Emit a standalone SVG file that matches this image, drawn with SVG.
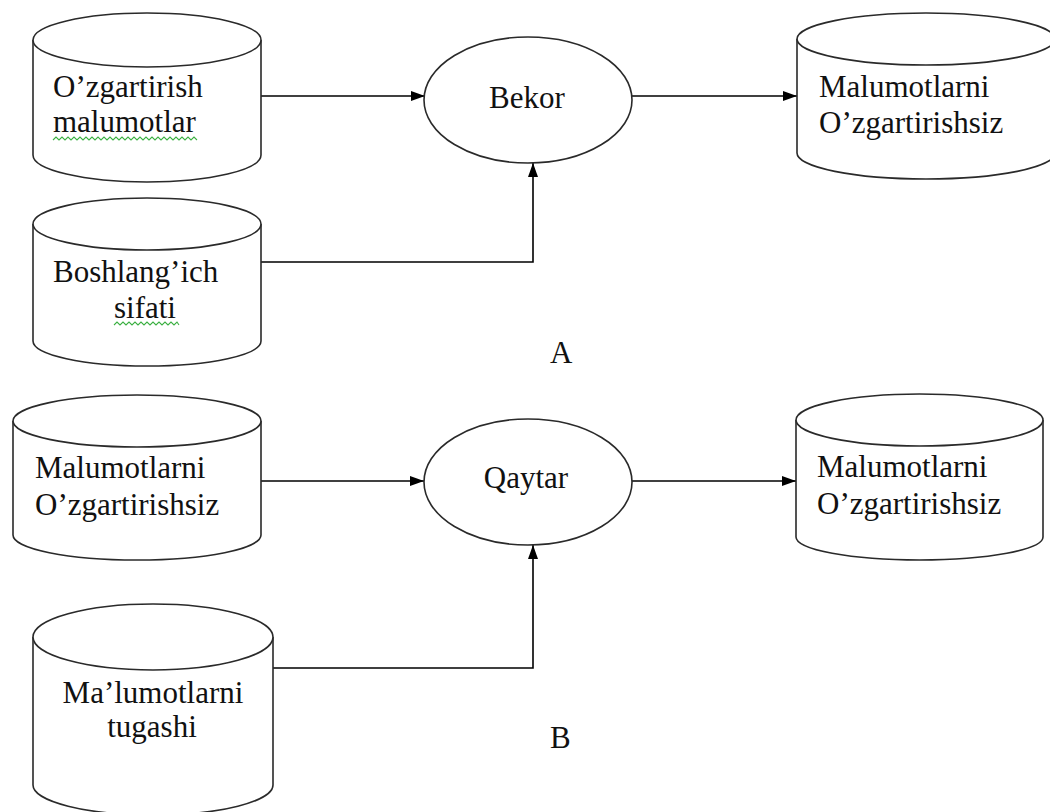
<svg xmlns="http://www.w3.org/2000/svg" width="1050" height="812" viewBox="0 0 1050 812">
  <defs>
    <marker id="arrow" viewBox="0 0 14 10" refX="14" refY="5" markerWidth="14" markerHeight="10" markerUnits="userSpaceOnUse" orient="auto">
      <path d="M0,0 L14,5 L0,10 Z" fill="#000"/>
    </marker>
    <style>
      .shape { fill: #fff; stroke: #2a2a2a; stroke-width: 1.6; }
      .label { font-family: "Liberation Serif", "Times New Roman", serif; font-size: 31px; fill: #111; }
      .mid { text-anchor: middle; }
      .link { fill: none; stroke: #000; stroke-width: 1.6; marker-end: url(#arrow); }
      .squiggle { fill: none; stroke: #3cb043; stroke-width: 1.1; }
    </style>
  </defs>
  <rect width="1050" height="812" fill="#fff"/>

  <!-- connectors -->
  <g id="connectors">
    <path class="link" d="M261,96 H425"/>
    <path class="link" d="M632,96 H797"/>
    <path class="link" d="M261,262 H533 V163"/>
    <path class="link" d="M261,481 H424"/>
    <path class="link" d="M632,481 H796"/>
    <path class="link" d="M260,668 H533 V545"/>
  </g>

  <!-- part A -->
  <g id="store-ozgartirish">
    <path class="shape" d="M33,40 V155 A114,27 0 0 0 261,155 V40"/>
    <ellipse class="shape" cx="147" cy="40" rx="114" ry="27"/>
    <text class="label" x="53" y="97">O’zgartirish</text>
    <text class="label" x="53" y="132">malumotlar</text>
    <polyline class="squiggle" points="53,140 56,137 59,140 62,137 65,140 68,137 71,140 74,137 77,140 80,137 83,140 86,137 89,140 92,137 95,140 98,137 101,140 104,137 107,140 110,137 113,140 116,137 119,140 122,137 125,140 128,137 131,140 134,137 137,140 140,137 143,140 146,137 149,140 152,137 155,140 158,137 161,140 164,137 167,140 170,137 173,140 176,137 179,140 182,137 185,140 188,137 191,140 194,137 197,140"/>
  </g>

  <g id="store-boshlangich">
    <path class="shape" d="M33,224 V341 A114,25 0 0 0 261,341 V224"/>
    <ellipse class="shape" cx="147" cy="224" rx="114" ry="26"/>
    <text class="label" x="53" y="282">Boshlang’ich</text>
    <text class="label" x="114" y="318">sifati</text>
    <polyline class="squiggle" points="114,325 117,322 120,325 123,322 126,325 129,322 132,325 135,322 138,325 141,322 144,325 147,322 150,325 153,322 156,325 159,322 162,325 165,322 168,325 171,322 174,325 177,322 179,325"/>
  </g>

  <g id="process-bekor">
    <ellipse class="shape" cx="528" cy="100" rx="104" ry="63"/>
    <text class="label mid" x="527" y="108">Bekor</text>
  </g>

  <g id="store-result-a">
    <path class="shape" d="M797,39 V153 A129,26 0 0 0 1055,153 V39"/>
    <ellipse class="shape" cx="926" cy="39" rx="129" ry="26"/>
    <text class="label" x="819" y="97">Malumotlarni</text>
    <text class="label" x="819" y="133">O’zgartirishsiz</text>
  </g>

  <text class="label" x="550" y="363">A</text>

  <!-- part B -->
  <g id="store-source-b">
    <path class="shape" d="M13,421 V535 A124,25 0 0 0 261,535 V421"/>
    <ellipse class="shape" cx="137" cy="421" rx="124" ry="26"/>
    <text class="label" x="35" y="478">Malumotlarni</text>
    <text class="label" x="35" y="515">O’zgartirishsiz</text>
  </g>

  <g id="store-tugashi">
    <path class="shape" d="M33,637 V785 A120,30 0 0 0 273,785 V637"/>
    <ellipse class="shape" cx="153" cy="637" rx="120" ry="33"/>
    <text class="label mid" x="153" y="703">Ma’lumotlarni</text>
    <text class="label mid" x="152" y="737">tugashi</text>
  </g>

  <g id="process-qaytar">
    <ellipse class="shape" cx="528" cy="482" rx="104" ry="63"/>
    <text class="label mid" x="526" y="488">Qaytar</text>
  </g>

  <g id="store-result-b">
    <path class="shape" d="M796,420 V537 A123.5,23 0 0 0 1043,537 V420"/>
    <ellipse class="shape" cx="919.5" cy="420" rx="123.5" ry="26"/>
    <text class="label" x="817" y="477">Malumotlarni</text>
    <text class="label" x="817" y="514">O’zgartirishsiz</text>
  </g>

  <text class="label" x="550" y="748">B</text>
</svg>
